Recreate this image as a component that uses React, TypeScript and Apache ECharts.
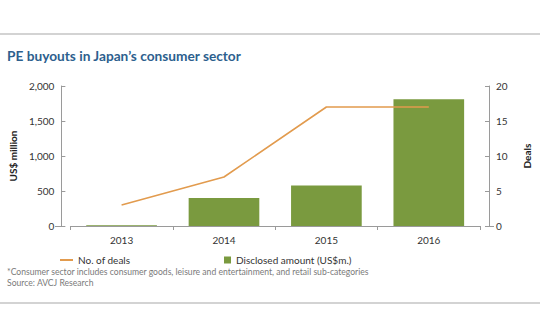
import React, { useEffect, useRef } from "react";
import * as echarts from "echarts";

const years = ["2013", "2014", "2015", "2016"];
const disclosedAmount = [12, 400, 580, 1810];
const dealCount = [3, 7, 17, 17];
const footnotes = [
  "*Consumer sector includes consumer goods, leisure and entertainment, and retail sub-categories",
  "Source: AVCJ Research",
];

const FONT = "Lato, 'Open Sans', sans-serif";
const AXIS_GREY = "#9a9a9a";
const GREEN = "#7a9a3f";
const ORANGE = "#e29b4e";

export default function App() {
  const ref = useRef<HTMLDivElement>(null);
  useEffect(() => {
    if (!ref.current) return;
    const chart = echarts.init(ref.current, undefined, { renderer: "svg" });
    chart.setOption({
      animation: false,
      backgroundColor: "#ffffff",
      textStyle: { fontFamily: FONT },
      grid: { left: 64, right: 55, top: 86, bottom: 108, containLabel: false },
      xAxis: {
        type: "category",
        data: years,
        axisLine: { show: true, lineStyle: { color: AXIS_GREY, width: 1 } },
        axisTick: { show: true, length: 4, inside: false, lineStyle: { color: AXIS_GREY } },
        axisLabel: { color: "#333", fontSize: 10, margin: 9, fontFamily: FONT },
      },
      yAxis: [
        {
          type: "value",
          min: 0,
          max: 2000,
          interval: 500,
          offset: 9,
          position: "left",
          name: "US$ million",
          nameLocation: "middle",
          nameRotate: 90,
          nameGap: 42,
          nameTextStyle: { color: "#222", fontSize: 10, fontWeight: "bold", fontFamily: FONT },
          axisLine: { show: true, lineStyle: { color: AXIS_GREY } },
          axisTick: { show: true, inside: true, length: 4, lineStyle: { color: AXIS_GREY } },
          axisLabel: {
            color: "#333",
            fontSize: 10,
            margin: 7,
            fontFamily: FONT,
            formatter: (v: number) => v.toLocaleString("en-US"),
          },
          splitLine: { show: false },
        },
        {
          type: "value",
          min: 0,
          max: 20,
          interval: 5,
          offset: 9,
          position: "right",
          name: "Deals",
          nameLocation: "middle",
          nameRotate: 90,
          nameGap: 33,
          nameTextStyle: { color: "#222", fontSize: 10, fontWeight: "bold", fontFamily: FONT },
          axisLine: { show: true, lineStyle: { color: AXIS_GREY } },
          axisTick: { show: true, inside: true, length: 4, lineStyle: { color: AXIS_GREY } },
          axisLabel: { color: "#333", fontSize: 10, margin: 7, fontFamily: FONT },
          splitLine: { show: false },
        },
      ],
      legend: [
        {
          left: 55,
          top: 250,
          itemWidth: 13,
          itemHeight: 2,
          itemGap: 10,
          textStyle: { color: "#333", fontSize: 10, fontFamily: FONT },
          data: [{ name: "No. of deals", icon: "rect" }],
        },
        {
          left: 219,
          top: 250,
          itemWidth: 7,
          itemHeight: 7,
          textStyle: { color: "#333", fontSize: 10, fontFamily: FONT },
          data: [{ name: "Disclosed amount (US$m.)", icon: "rect" }],
        },
      ],
      series: [
        {
          name: "Disclosed amount (US$m.)",
          type: "bar",
          yAxisIndex: 0,
          data: disclosedAmount,
          barWidth: "69%",
          itemStyle: { color: GREEN },
          z: 2,
        },
        {
          name: "No. of deals",
          type: "line",
          yAxisIndex: 1,
          data: dealCount,
          showSymbol: false,
          symbol: "none",
          lineStyle: { color: ORANGE, width: 1.6 },
          itemStyle: { color: ORANGE },
          z: 3,
        },
      ],
      graphic: [
        { type: "line", shape: { x1: 0, y1: 34, x2: 540, y2: 34 }, style: { stroke: "#c4c4c4", lineWidth: 1.5 } },
        { type: "line", shape: { x1: 0, y1: 303, x2: 540, y2: 303 }, style: { stroke: "#c4c4c4", lineWidth: 1.5 } },
        { type: "line", shape: { x1: 55, y1: 226.5, x2: 64, y2: 226.5 }, style: { stroke: AXIS_GREY, lineWidth: 1 } },
        { type: "line", shape: { x1: 485, y1: 226.5, x2: 494, y2: 226.5 }, style: { stroke: AXIS_GREY, lineWidth: 1 } },
        {
          type: "text",
          left: 7,
          top: 48,
          style: {
            text: "PE buyouts in Japan\u2019s consumer sector",
            fill: "#2d5f8e",
            font: `bold 13.7px ${FONT}`,
          },
        },
        {
          type: "text",
          left: 7,
          top: 267,
          style: { text: footnotes[0], fill: "#7a7a7a", font: `8.6px ${FONT}` },
        },
        {
          type: "text",
          left: 7,
          top: 278,
          style: { text: footnotes[1], fill: "#7a7a7a", font: `8.6px ${FONT}` },
        },
      ],
    });
    return () => chart.dispose();
  }, []);
  return (
    <div
      ref={ref}
      style={{ position: "fixed", left: 0, top: 0, width: 540, height: 334, background: "#fff" }}
    />
  );
}
